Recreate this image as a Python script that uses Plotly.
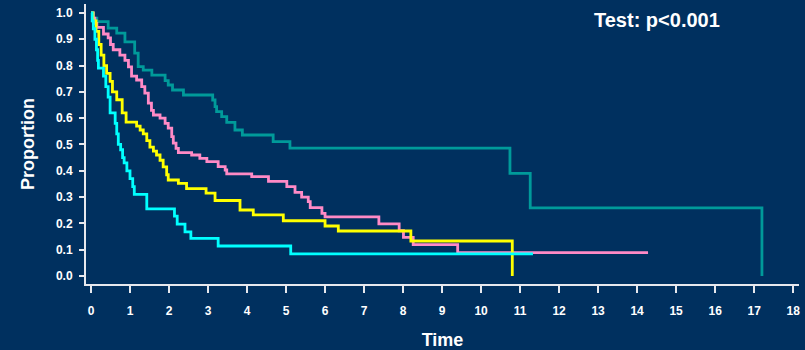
import plotly.graph_objects as go

# Kaplan-Meier style step curves: event times (years) and survival proportion after each step
teal_time = [0, 0.05, 0.15, 0.44, 0.66, 0.87, 1.12, 1.21, 1.34, 1.56, 1.90, 1.98, 2.09, 2.37,
             3.12, 3.18, 3.22, 3.35, 3.48, 3.69, 3.88, 4.67, 5.10, 10.74, 11.26, 17.20]
teal_surv = [1.0, 0.98, 0.967, 0.942, 0.923, 0.89, 0.847, 0.796, 0.783, 0.764, 0.743, 0.726, 0.707, 0.688,
             0.669, 0.644, 0.625, 0.606, 0.584, 0.555, 0.536, 0.511, 0.486, 0.39, 0.259, 0.0]

pink_time = [0, 0.06, 0.10, 0.15, 0.32, 0.44, 0.50, 0.57, 0.74, 0.87, 0.96, 1.04, 1.17, 1.30, 1.38,
             1.47, 1.55, 1.60, 1.77, 1.90, 1.98, 2.07, 2.11, 2.18, 2.24, 2.58, 2.79, 2.97, 3.26, 3.44,
             3.48, 4.12, 4.55, 5.02, 5.23, 5.40, 5.57, 5.62, 5.92, 6.00, 7.38, 7.90, 8.01, 8.26, 9.40, 14.28]
pink_surv = [1.0, 0.98, 0.96, 0.945, 0.92, 0.905, 0.88, 0.86, 0.84, 0.82, 0.795, 0.76, 0.745, 0.72, 0.695,
             0.657, 0.63, 0.612, 0.60, 0.58, 0.562, 0.53, 0.505, 0.485, 0.469, 0.46, 0.447, 0.435, 0.416, 0.403,
             0.388, 0.378, 0.36, 0.34, 0.318, 0.30, 0.283, 0.26, 0.238, 0.225, 0.198, 0.172, 0.147, 0.119, 0.089, 0.089]

yellow_time = [0, 0.05, 0.13, 0.20, 0.26, 0.33, 0.40, 0.49, 0.55, 0.66, 0.80, 0.90, 1.17, 1.26, 1.34,
               1.43, 1.51, 1.60, 1.68, 1.77, 1.85, 1.94, 1.98, 2.24, 2.45, 2.95, 3.18, 3.82, 4.16, 4.93,
               6.00, 6.34, 8.20, 10.80]
yellow_surv = [1.0, 0.97, 0.93, 0.88, 0.84, 0.80, 0.77, 0.74, 0.70, 0.67, 0.62, 0.585, 0.57, 0.555, 0.54,
               0.515, 0.49, 0.475, 0.46, 0.44, 0.415, 0.385, 0.365, 0.352, 0.332, 0.315, 0.287, 0.251, 0.232, 0.21,
               0.19, 0.171, 0.133, 0.0]

cyan_time = [0, 0.03, 0.06, 0.10, 0.14, 0.17, 0.19, 0.32, 0.38, 0.44, 0.49, 0.62, 0.66, 0.70, 0.76,
             0.81, 0.85, 0.92, 1.00, 1.07, 1.11, 1.43, 2.14, 2.21, 2.41, 2.56, 3.26, 5.12, 11.33]
cyan_surv = [1.0, 0.97, 0.94, 0.90, 0.86, 0.82, 0.79, 0.76, 0.72, 0.68, 0.62, 0.58, 0.54, 0.50, 0.48,
             0.45, 0.43, 0.40, 0.37, 0.34, 0.31, 0.255, 0.228, 0.197, 0.168, 0.143, 0.114, 0.084, 0.084]

x_ticks = list(range(0, 19))
y_ticks = [round(0.1 * i, 1) for i in range(11)]

BG = "#00305f"
AXIS = "#e6e8ee"
FONT = "Liberation Sans, Arial, sans-serif"

series = [
    ("Group 1", teal_time, teal_surv, "#009a9a"),
    ("Group 2", pink_time, pink_surv, "#ff8ac6"),
    ("Group 3", yellow_time, yellow_surv, "#ffff00"),
    ("Group 4", cyan_time, cyan_surv, "#00ffff"),
]

fig = go.Figure()
for name, t, s, color in series:
    fig.add_trace(go.Scatter(
        x=t, y=s, mode="lines", name=name, showlegend=False,
        line=dict(color=color, width=2.8, shape="hv"),
    ))

fig.update_layout(
    width=805, height=350,
    margin=dict(l=86, r=6, t=4, b=66),
    paper_bgcolor=BG, plot_bgcolor=BG,
    font=dict(family=FONT, color="white"),
    xaxis=dict(
        range=[-0.128, 18.15],
        tickvals=x_ticks, ticktext=[f"<b>{v}</b>" for v in x_ticks],
        tickfont=dict(size=12, color="white"),
        ticks="outside", ticklen=7, tickwidth=1.5, tickcolor=AXIS,
        showline=True, linecolor=AXIS, linewidth=2,
        showgrid=False, zeroline=False, ticklabelstandoff=8,
        title=dict(text="<b>Time</b>", font=dict(size=18, color="white"), standoff=16),
    ),
    yaxis=dict(
        range=[-0.0304, 1.034],
        tickvals=y_ticks, ticktext=[f"<b>{v:.1f}</b>" for v in y_ticks],
        tickfont=dict(size=12, color="white"),
        ticks="outside", ticklen=5, tickwidth=1.5, tickcolor=AXIS,
        showline=True, linecolor=AXIS, linewidth=2,
        showgrid=False, zeroline=False, ticklabelstandoff=4,
        title=dict(text="<b>Proportion</b>", font=dict(size=18, color="white"), standoff=17),
    ),
    annotations=[dict(
        text="<b>Test: p<0.001</b>", xref="paper", yref="paper",
        x=(657 - 86) / (805 - 86 - 6), y=1 - (20 - 4) / (350 - 4 - 66),
        xanchor="center", yanchor="middle", showarrow=False,
        font=dict(size=20, color="white"),
    )],
)

fig.write_html("out.html")
